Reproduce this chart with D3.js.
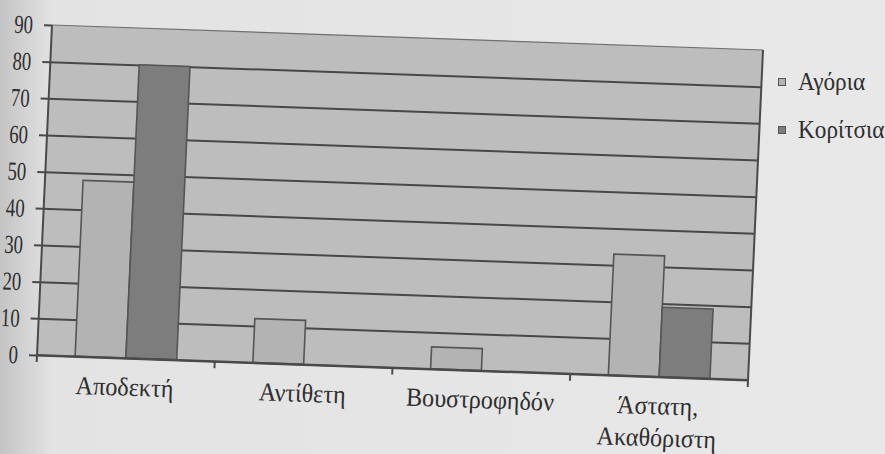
<!DOCTYPE html>
<html>
<head>
<meta charset="utf-8">
<script src="https://cdn.jsdelivr.net/npm/d3@7"></script>
<style>
  html, body { margin: 0; padding: 0; background: #e6e6e6; }
  svg { display: block; }
  text { font-family: "Liberation Serif", "DejaVu Serif", serif; fill: #2e2e2e; }
</style>
</head>
<body>
<svg id="chart" width="885" height="454"></svg>
<script>
  const categories = ["Αποδεκτή", "Αντίθετη", "Βουστροφηδόν", "Άστατη, Ακαθόριστη"];
  const seriesNames = ["Αγόρια", "Κορίτσια"];
  const boys = [48, 12, 6, 33];
  const girls = [80, 0, 0, 19];
  const yTicks = [0, 10, 20, 30, 40, 50, 60, 70, 80, 90];

  const colors = { "Αγόρια": "#b3b3b3", "Κορίτσια": "#7d7d7d" };

  let svg = d3.select('#chart'),
    W = 712,
    H = 331,
    fontSize = 26,
    squeeze = 0.93,
    digitSqueeze = 0.72;

  /*
   * scanned page background, darker near the binding
   */
  let defs = svg.append('defs');
  let grad = defs.append('linearGradient').attr('id', 'page').attr('x1', 0).attr('x2', 1);
  grad.append('stop').attr('offset', 0).attr('stop-color', '#c4c4c4');
  grad.append('stop').attr('offset', 0.06).attr('stop-color', '#e3e3e3');
  grad.append('stop').attr('offset', 1).attr('stop-color', '#e8e8e8');
  svg.append('rect').attr('width', 885).attr('height', 454).attr('fill', 'url(#page)');

  // the scan is slightly tilted
  let g = svg.append('g')
    .attr('transform', 'matrix(0.9986,0.0351,-0.0453,0.997,52,25)');

  let x0 = d3.scaleBand().domain(categories).range([0, W]).padding(0);
  let x1 = d3.scaleBand().domain(seriesNames).range([0, x0.bandwidth()])
    .paddingInner(0).paddingOuter(0.75);
  let y = d3.scaleLinear().domain([0, 90]).range([H, 0]);

  // plot area
  g.append('rect')
    .attr('width', W).attr('height', H)
    .attr('fill', '#bdbdbd');
  g.append('line')
    .attr('x1', 0).attr('x2', W).attr('y1', 0).attr('y2', 0)
    .attr('stroke', '#707070').attr('stroke-width', 1.2);

  /*
   * y axis with gridlines
   */
  let yAxis = g.append('g')
    .call(d3.axisLeft(y).tickValues(yTicks).tickSize(8));
  yAxis.select('.domain').remove();
  yAxis.selectAll('.tick line')
    .attr('x2', function (d) { return d === 90 ? 0 : W; })
    .attr('x1', -8)
    .attr('stroke', '#484848')
    .attr('stroke-width', 2);
  yAxis.selectAll('.tick text')
    .attr('font-size', fontSize)
    .attr('font-family', '"Liberation Serif", serif')
    .attr('fill', '#2e2e2e')
    .attr('x', -19 / digitSqueeze)
    .attr('dy', '0.33em')
    .attr('transform', 'scale(' + digitSqueeze + ',1)');

  /*
   * bars
   */
  let rows = categories.map(function (c, i) {
    return { cat: c, values: [
      { key: seriesNames[0], value: boys[i] },
      { key: seriesNames[1], value: girls[i] }
    ] };
  });

  let groups = g.selectAll('.group')
    .data(rows)
    .enter()
    .append('g')
    .attr('class', 'group')
    .attr('transform', function (d) { return 'translate(' + x0(d.cat) + ',0)'; });

  groups.selectAll('rect')
    .data(function (d) { return d.values.filter(function (v) { return v.value > 0; }); })
    .enter()
    .append('rect')
    .attr('x', function (d) { return x1(d.key); })
    .attr('y', function (d) { return y(d.value); })
    .attr('width', x1.bandwidth())
    .attr('height', function (d) { return H - y(d.value); })
    .attr('fill', function (d) { return colors[d.key]; })
    .attr('stroke', '#555')
    .attr('stroke-width', 1.6);

  /*
   * axis frame: left, bottom, right, category ticks
   */
  let bounds = categories.map(function (c) { return x0(c); }).concat([W]);
  g.selectAll('.cat-tick')
    .data(bounds)
    .enter()
    .append('line')
    .attr('x1', function (d) { return d; })
    .attr('x2', function (d) { return d; })
    .attr('y1', function (d, i) { return (i === 0 || i === bounds.length - 1) ? 0 : H; })
    .attr('y2', H + 7)
    .attr('stroke', '#4a4a4a')
    .attr('stroke-width', 2);
  g.append('line')
    .attr('x1', 0).attr('x2', W).attr('y1', H).attr('y2', H)
    .attr('stroke', '#4a4a4a').attr('stroke-width', 2);

  // category labels, last one wraps after the comma
  let labels = g.selectAll('.cat-label')
    .data(categories)
    .enter()
    .append('text')
    .attr('class', 'cat-label')
    .attr('font-size', fontSize)
    .attr('text-anchor', 'middle')
    .attr('transform', function (d) {
      return 'translate(' + (x0(d) + x0.bandwidth() / 2) + ',' + (H + 29) + ') scale(' + squeeze + ',1)';
    });
  labels.each(function (d) {
    let parts = d.indexOf(', ') > -1 ? [d.split(', ')[0] + ',', d.split(', ')[1]] : [d];
    d3.select(this).selectAll('tspan')
      .data(parts)
      .enter()
      .append('tspan')
      .attr('x', 0)
      .attr('y', function (p, i) { return i * 32; })
      .attr('dy', '0.33em')
      .text(function (p) { return p; });
  });

  /*
   * legend
   */
  let legend = svg.selectAll('.legend')
    .data(seriesNames)
    .enter()
    .append('g')
    .attr('class', 'legend')
    .attr('transform', function (d, i) { return 'translate(782,' + (82 + i * 48) + ')'; });
  legend.append('rect')
    .attr('x', -3.5).attr('y', -3.5)
    .attr('width', 7).attr('height', 7)
    .attr('fill', function (d) { return colors[d]; })
    .attr('stroke', '#555')
    .attr('stroke-width', 1);
  legend.append('text')
    .attr('font-size', fontSize - 1)
    .attr('transform', 'translate(16,0) scale(' + squeeze + ',1)')
    .attr('dy', '0.33em')
    .text(function (d) { return d; });
</script>
</body>
</html>
